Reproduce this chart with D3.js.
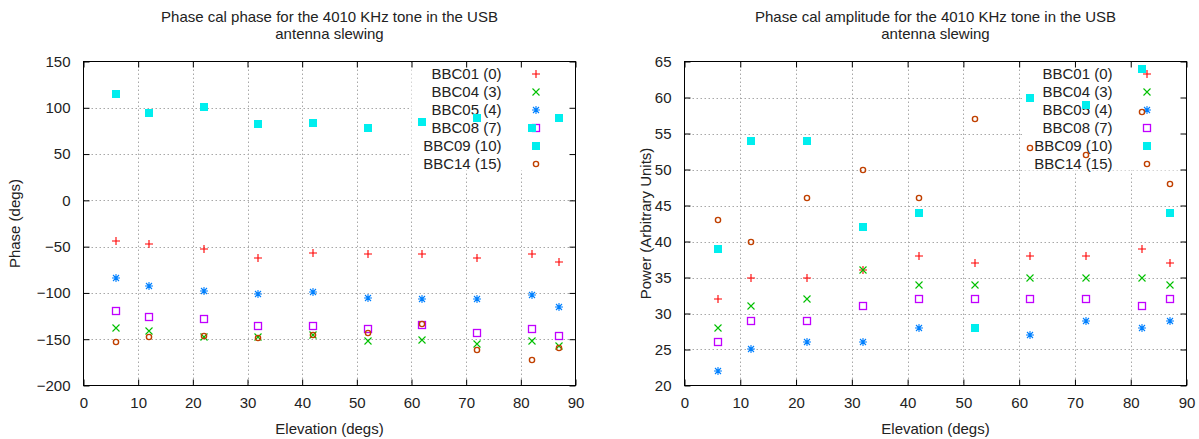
<!DOCTYPE html>
<html>
<head>
<meta charset="utf-8">
<script src="https://cdn.jsdelivr.net/npm/d3@7"></script>
<style>
  html, body { margin: 0; padding: 0; background: #fff; }
  svg { display: block; }
  text { font-family: "Liberation Sans", Arial, sans-serif; fill: #222; }
</style>
</head>
<body>
<svg id="chart" width="1199" height="439"></svg>
<script>
// Elevation of each phase-cal measurement (degrees)
const elevations = [6, 12, 22, 32, 42, 52, 62, 72, 82, 87];

// Channel labels, in plotting order
const channels = ["BBC01 (0)", "BBC04 (3)", "BBC05 (4)", "BBC08 (7)", "BBC09 (10)", "BBC14 (15)"];

// Phase (degs) per channel
const bbc01Phase = [-44, -47, -53, -62, -57, -58, -58, -62, -58, -67];
const bbc04Phase = [-138, -141, -148, -148, -145, -152, -151, -155, -152, -157];
const bbc05Phase = [-84, -92, -98, -101, -99, -105, -107, -107, -102, -115];
const bbc08Phase = [-119, -126, -128, -136, -136, -139, -135, -143, -139, -146];
const bbc09Phase = [115, 94, 101, 83, 84, 78, 85, 89, 78, 89];
const bbc14Phase = [-153, -148, -146, -149, -145, -143, -134, -162, -172, -160];

// Amplitude (arbitrary units) per channel
const bbc01Amp = [32, 35, 35, 36, 38, 37, 38, 38, 39, 37];
const bbc04Amp = [28, 31, 32, 36, 34, 34, 35, 35, 35, 34];
const bbc05Amp = [22, 25, 26, 26, 28, 28, 27, 29, 28, 29];
const bbc08Amp = [26, 29, 29, 31, 32, 32, 32, 32, 31, 32];
const bbc09Amp = [39, 54, 54, 42, 44, 28, 60, 59, 64, 44];
const bbc14Amp = [43, 40, 46, 50, 46, 57, 53, 52, 58, 48];

// Tick values
const elevTicks = [0, 10, 20, 30, 40, 50, 60, 70, 80, 90];
const phaseTicks = [-200, -150, -100, -50, 0, 50, 100, 150];
const ampTicks = [20, 25, 30, 35, 40, 45, 50, 55, 60, 65];

// Per-channel colour and point glyph
const colors = ["#ff0000", "#00c000", "#0080ff", "#c000ff", "#00eeee", "#c04000"];
const glyphs = ["plus", "cross", "star", "box", "filledBox", "circle"];

const FONT = 15;
const svg = d3.select("#chart");

function drawGlyph(g, type, px, py, color) {
  // centre on whole pixels: strokes come out soft and two pixels wide
  const x = Math.round(px), y = Math.round(py);
  const s = 4;
  switch (type) {
    case "plus":
      g.append("path").attr("d", `M${x - s},${y}H${x + s}M${x},${y - s}V${y + s}`)
        .attr("stroke", color).attr("stroke-width", 1.1).attr("fill", "none");
      break;
    case "cross":
      g.append("path").attr("d", `M${x - 3.5},${y - 3.5}L${x + 3.5},${y + 3.5}M${x - 3.5},${y + 3.5}L${x + 3.5},${y - 3.5}`)
        .attr("stroke", color).attr("stroke-width", 1.1).attr("fill", "none");
      break;
    case "star":
      g.append("path").attr("d",
        `M${x - s},${y}H${x + s}M${x},${y - s}V${y + s}` +
        `M${x - 3},${y - 3}L${x + 3},${y + 3}M${x - 3},${y + 3}L${x + 3},${y - 3}`)
        .attr("stroke", color).attr("stroke-width", 1.1).attr("fill", "none");
      break;
    case "box":
      g.append("rect").attr("x", x - 3.5).attr("y", y - 3.5).attr("width", 7).attr("height", 7)
        .attr("stroke", color).attr("stroke-width", 1.3).attr("fill", "none");
      break;
    case "filledBox":
      g.append("rect").attr("x", x - 4).attr("y", y - 4).attr("width", 8).attr("height", 8)
        .attr("fill", color);
      break;
    case "circle":
      g.append("circle").attr("cx", x).attr("cy", y).attr("r", 2.6)
        .attr("stroke", color).attr("stroke-width", 1.4).attr("fill", "none");
      break;
  }
}

function drawPanel(opts) {
  const { left, right, top, bottom, yDomain, yTicks, series, titleLines, yLabel, yLabelX } = opts;
  const x = d3.scaleLinear().domain([0, 90]).range([left, right]);
  const y = d3.scaleLinear().domain(yDomain).range([bottom, top]);
  const g = svg.append("g");

  // Dotted grid
  const grid = g.append("g").attr("stroke", "#a8a8a8").attr("stroke-width", 1)
    .attr("stroke-dasharray", "1.5,2.5");
  elevTicks.slice(1, -1).forEach(t => {
    const px = Math.round(x(t)) + 0.5;
    grid.append("line").attr("x1", px).attr("x2", px).attr("y1", top).attr("y2", bottom);
  });
  yTicks.slice(1, -1).forEach(t => {
    const py = Math.round(y(t)) + 0.5;
    grid.append("line").attr("x1", left).attr("x2", right).attr("y1", py).attr("y2", py);
  });

  // Opaque key area in the upper right corner
  g.append("rect").attr("x", right - 164).attr("y", top + 1)
    .attr("width", 163).attr("height", 108).attr("fill", "#fff");

  // Axes on all four sides, ticks pointing inward
  const xb = d3.axisBottom(x).tickValues(elevTicks).tickSizeInner(-6).tickSizeOuter(0).tickPadding(12);
  const xt = d3.axisTop(x).tickValues(elevTicks).tickSizeInner(-6).tickSizeOuter(0).tickFormat("");
  const yl = d3.axisLeft(y).tickValues(yTicks).tickSizeInner(-6).tickSizeOuter(0).tickPadding(13);
  const yr = d3.axisRight(y).tickValues(yTicks).tickSizeInner(-6).tickSizeOuter(0).tickFormat("");

  const styleAxis = sel => {
    sel.select(".domain").remove();
    sel.selectAll(".tick line").attr("stroke", "#000");
    sel.selectAll(".tick text").attr("fill", "#222").style("font-size", FONT + "px")
      .style("font-family", "'Liberation Sans', Arial, sans-serif");
  };
  g.append("g").attr("transform", `translate(0,${bottom})`).call(xb).call(styleAxis);
  g.append("g").attr("transform", `translate(0,${top})`).call(xt).call(styleAxis);
  g.append("g").attr("transform", `translate(${left},0)`).call(yl).call(styleAxis);
  g.append("g").attr("transform", `translate(${right},0)`).call(yr).call(styleAxis);

  g.append("rect").attr("x", left).attr("y", top).attr("width", right - left).attr("height", bottom - top)
    .attr("fill", "none").attr("stroke", "#000").attr("stroke-width", 1);

  // Key entry then points, channel by channel
  series.forEach((vals, i) => {
    const ky = top + 12 + i * 18;
    g.append("text").attr("x", right - 74).attr("y", ky).attr("dy", "0.35em")
      .attr("text-anchor", "end").style("font-size", FONT + "px").text(channels[i]);
    drawGlyph(g, glyphs[i], right - 40, ky, colors[i]);
    vals.forEach((v, j) => drawGlyph(g, glyphs[i], x(elevations[j]), y(v), colors[i]));
  });

  // Titles
  const cx = (left + right) / 2;
  titleLines.forEach((t, i) => {
    g.append("text").attr("x", cx).attr("y", 21.5 + i * 17.5).attr("text-anchor", "middle")
      .style("font-size", FONT + "px").text(t);
  });
  g.append("text").attr("x", cx).attr("y", 434).attr("text-anchor", "middle")
    .style("font-size", FONT + "px").text("Elevation (degs)");
  g.append("text").attr("transform", `translate(${yLabelX},${(top + bottom) / 2}) rotate(-90)`)
    .attr("text-anchor", "middle").attr("dy", "0.35em").style("font-size", FONT + "px").text(yLabel);
}

drawPanel({
  left: 83.5, right: 575.5, top: 61.5, bottom: 385.5,
  yDomain: [-200, 150], yTicks: phaseTicks,
  series: [bbc01Phase, bbc04Phase, bbc05Phase, bbc08Phase, bbc09Phase, bbc14Phase],
  titleLines: ["Phase cal phase for the 4010 KHz tone in the USB", "antenna slewing"],
  yLabel: "Phase (degs)", yLabelX: 15
});

drawPanel({
  left: 684.5, right: 1186.5, top: 61.5, bottom: 385.5,
  yDomain: [20, 65], yTicks: ampTicks,
  series: [bbc01Amp, bbc04Amp, bbc05Amp, bbc08Amp, bbc09Amp, bbc14Amp],
  titleLines: ["Phase cal amplitude for the 4010 KHz tone in the USB", "antenna slewing"],
  yLabel: "Power (Arbitrary Units)", yLabelX: 646
});
</script>
</body>
</html>
